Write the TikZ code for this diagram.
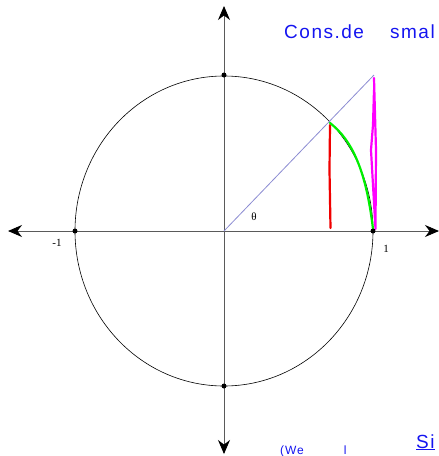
\documentclass[tikz,border=0pt]{standalone}
\usepackage{fontspec}
\setmainfont{Liberation Serif}
\newfontfamily\handfont[LetterSpace=8]{Liberation Sans}
\usetikzlibrary{arrows.meta}
\definecolor{inkblue}{RGB}{20,20,240}
\definecolor{diagline}{RGB}{140,140,210}
\definecolor{axisgray}{RGB}{90,90,90}
\definecolor{penmag}{RGB}{255,0,255}
\definecolor{pengreen}{RGB}{0,240,0}
\definecolor{penred}{RGB}{240,0,0}
\tikzset{
  axis/.style={draw=axisgray, line width=0.9pt, -{Stealth[length=14pt,width=12pt,color=black]}},
  dot/.style={circle, fill=black, inner sep=0pt, minimum size=5pt},
  lbl/.style={font=\fontsize{11}{12}\selectfont, inner sep=0pt},
  hand/.style={text=inkblue, font=\handfont\fontsize{19}{20}\selectfont, inner sep=0pt, anchor=base west},
  handsmall/.style={text=inkblue, font=\handfont\fontsize{12}{13}\selectfont, inner sep=0pt, anchor=base west},
  pen/.style={line width=2.2pt, line cap=round, line join=round}
}
\begin{document}
\begin{tikzpicture}[x=1pt,y=-1pt]
\useasboundingbox (0,0) rectangle (439,456);
\clip (0,0) rectangle (439,456);
\coordinate (O) at (224,231);
\coordinate (L) at (8,231);
\coordinate (R) at (439,231);
\coordinate (T) at (224,6);
\coordinate (B) at (224,454);
\coordinate (Q) at (374,75);
% axes
\draw[axis] (O) -- (L);
\draw[axis] (O) -- (R);
\draw[axis] (O) -- (T);
\draw[axis] (O) -- (B);
% circle
\draw[black, line width=0.6pt] (O) ellipse [x radius=149, y radius=155];
% diagonal
\draw[diagline, line width=0.8pt] (O) -- (Q);
% colored strokes
\draw[pen, penred] (330,125) -- (329.5,170) -- (330.5,228);
\draw[pen, pengreen] (330,123) .. controls (352,140) and (366,170) .. (373,229);
\draw[pen, penmag] (374,78) -- (376,150) -- (375.5,229) -- (371,150) -- (373,125) -- (374,90);
% dots
\node[dot] (d1) at (75,231) {};
\node[dot] (d2) at (373,231) {};
\node[dot] (d3) at (224,75) {};
\node[dot] (d4) at (224,386) {};
% labels
\node[lbl] (th) at (254,217) {θ};
\node[lbl] (m1) at (57,243) {-1};
\node[lbl] (p1) at (386,249) {1};
% handwriting
\node[hand] (h1) at (284,38) {Cons.de\hspace{26pt}smal};
\node[handsmall] (h2) at (280,454) {(We\hspace{40pt}l};
\node[hand] (h3) at (416,448) {\underline{Si}};
\end{tikzpicture}
\end{document}
